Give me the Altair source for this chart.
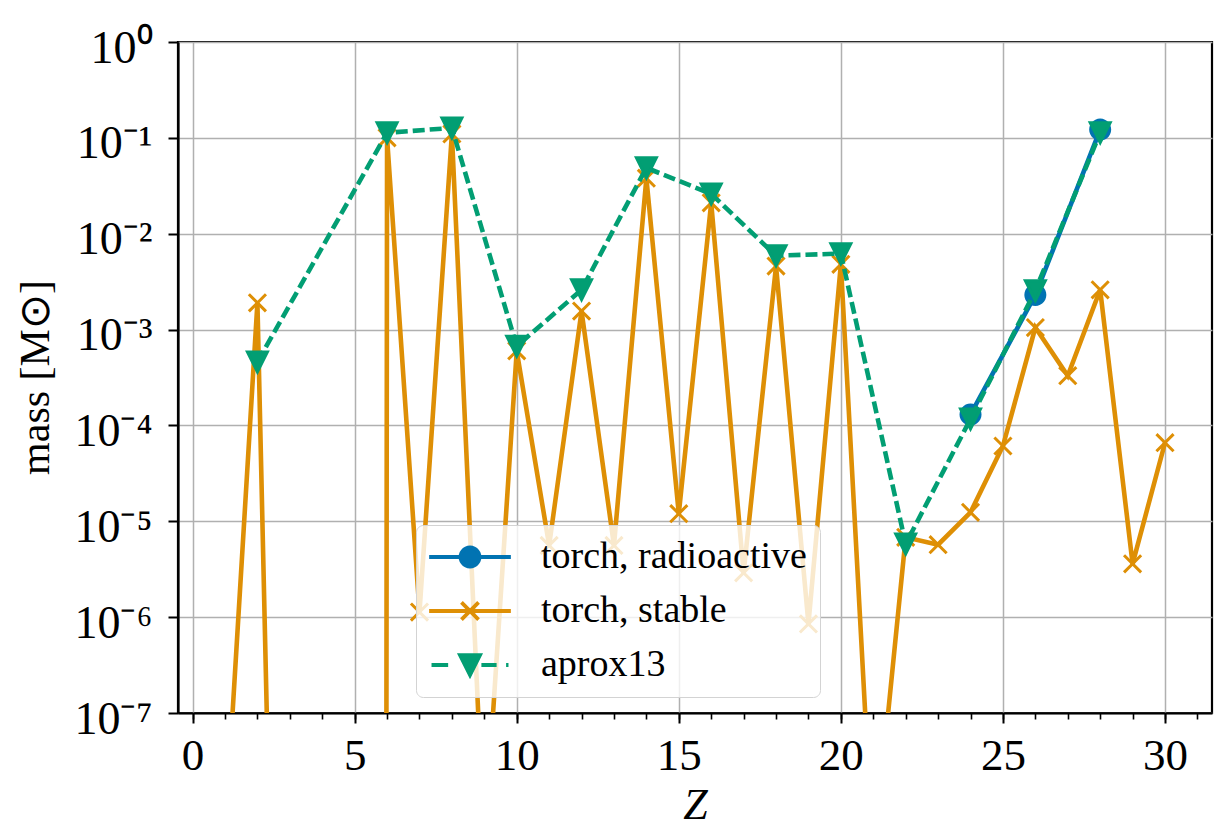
import math
import altair as alt
import pandas as pd

# ---------------- data ----------------
series_names = ["torch, radioactive", "torch, stable", "aprox13"]
series_colors = ["#0173b2", "#de8f05", "#029e73"]

z_radio = [24, 26, 28]
m_radio = [1.3e-4, 2.3e-3, 0.122]

z_stable = list(range(1, 31))
m_stable = [5e-9, 1.9e-3, 3e-18, 1e-300, 1e-300, 0.1, 1.13e-6, 0.11, 4e-9, 6.0e-4,
            5.6e-6, 1.56e-3, 5.6e-6, 0.038, 1.2e-5, 0.021, 2.9e-6, 4.6e-3, 8.5e-7, 4.8e-3,
            2.8e-9, 6.8e-6, 5.7e-6, 1.24e-5, 6.1e-5, 1.05e-3, 3.3e-4, 2.6e-3, 3.6e-6, 6.6e-5]

z_aprox = [2, 6, 8, 10, 12, 14, 16, 18, 20, 22, 24, 26, 28]
m_aprox = [4.6e-4, 0.113, 0.127, 6.7e-4, 2.6e-3, 0.0487, 0.026, 5.9e-3, 6.2e-3,
           5.8e-6, 1.17e-4, 2.55e-3, 0.113]

x_major_ticks = [0, 5, 10, 15, 20, 25, 30]
x_minor_ticks = list(range(0, 32))
y_ticks = [1, 1e-1, 1e-2, 1e-3, 1e-4, 1e-5, 1e-6, 1e-7]
y_tick_labels = ["10⁰", "10⁻¹", "10⁻²", "10⁻³", "10⁻⁴", "10⁻⁵", "10⁻⁶", "10⁻⁷"]

FONT = "Liberation Serif"
LINE_W = 4.6

# ---------------- marker shapes ----------------
def circle_path(r, n=28):
    pts = [(r * math.cos(2 * math.pi * k / n), r * math.sin(2 * math.pi * k / n)) for k in range(n)]
    return "M" + "L".join(f"{x:.3f},{y:.3f}" for x, y in pts) + "Z"

circle = circle_path(1.0)
cross = "M-0.9,-0.9L0.9,0.9M-0.9,0.9L0.9,-0.9"
tri_down = "M-1.05,-1.05L1.05,-1.05L0,1.05Z"

leg_circle = "M-4.3,0L4.3,0" + circle
leg_cross = "M-4.3,0L4.3,0" + cross
leg_tri = "M-4.05,0L-2.3,0M1.2,0L2.8,0M3.8,0L4.05,0" + tri_down

# ---------------- scales / encodings ----------------
xscale = alt.Scale(domain=[-0.45, 31.45], nice=False, zero=False)
yscale = alt.Scale(type="log", domain=[1e-7, 1], nice=False)

label_expr = "[" + ",".join(f"'{s}'" for s in y_tick_labels) + "][round(-log(datum.value)/LN10)]"

x_axis = alt.Axis(values=x_major_ticks, grid=True, gridColor="#b0b0b0", gridWidth=1.5,
                  tickSize=10, tickWidth=2, tickColor="black",
                  domainColor="black", domainWidth=2.2,
                  labelFont=FONT, labelFontSize=45, labelColor="black", labelPadding=10,
                  labelFlush=False, labelOverlap=False, format="d",
                  title="Z", titleFont=FONT, titleFontSize=44, titleFontStyle="italic",
                  titleFontWeight="normal", titleColor="black", titleY=105,
                  titleBaseline="alphabetic", orient="bottom")
y_axis = alt.Axis(values=y_ticks, labelExpr=label_expr, grid=True, gridColor="#b0b0b0",
                  gridWidth=1.5, tickSize=10, tickWidth=2, tickColor="black",
                  domainColor="black", domainWidth=2.2,
                  labelFont=FONT, labelFontSize=46, labelColor="black", labelPadding=16,
                  labelFlush=False, labelOverlap=False, labelOffset=6,
                  title="mass [M⊙]", titleFont=FONT, titleFontSize=42,
                  titleFontWeight="normal", titleColor="black",
                  titleX=-143, titleY=335, titleBaseline="middle", titleAngle=-90)

xenc = alt.X("Z:Q", scale=xscale, axis=x_axis)
yenc = alt.Y("mass:Q", scale=yscale, axis=y_axis)

specs = [
    (series_names[0], series_colors[0], z_radio, m_radio, None, circle),
    (series_names[1], series_colors[1], z_stable, m_stable, None, cross),
    (series_names[2], series_colors[2], z_aprox, m_aprox, [12, 5], tri_down),
]

layers = []
for name, color, zs, ms, dash, shape in specs:
    df = pd.DataFrame({"Z": zs, "mass": ms, "series": name})
    line_kw = dict(clip=True, color=color, stroke=color, strokeWidth=LINE_W)
    if dash is not None:
        line_kw["strokeDash"] = dash
    line = alt.Chart(df).mark_line(**line_kw).encode(
        x=xenc, y=yenc, order="Z:Q", strokeWidth=alt.value(LINE_W))
    pts = alt.Chart(df).mark_point(clip=True, shape=shape, filled=True, fill=color,
                                   stroke=color, strokeWidth=3, size=361,
                                   opacity=1).encode(x=xenc, y=yenc)
    layers += [line, pts]

legend = alt.Legend(title=None, orient="none", legendX=238, legendY=483, padding=13,
                    symbolOffset=22, labelOffset=52, rowPadding=16, symbolSize=361,
                    symbolStrokeWidth=3.8, symbolOpacity=1, labelFontSize=38, labelFont=FONT,
                    labelColor="black", labelLimit=0, fillColor="rgba(255,255,255,0.8)",
                    strokeColor="#d3d3d3", cornerRadius=7)

leg_df = pd.DataFrame({"series": series_names})
legend_layer = alt.Chart(leg_df).mark_point(clip=True, filled=True, opacity=1, size=361).encode(
    x=alt.value(0), y=alt.value(-5000),
    fill=alt.Fill("series:N", scale=alt.Scale(domain=series_names, range=series_colors), legend=legend),
    stroke=alt.Stroke("series:N", scale=alt.Scale(domain=series_names, range=series_colors), legend=legend),
    shape=alt.Shape("series:N", scale=alt.Scale(domain=series_names, range=[leg_circle, leg_cross, leg_tri]),
                    legend=legend),
)

minor = alt.Chart(pd.DataFrame({"Z": x_minor_ticks})).mark_point(opacity=0).encode(
    x=alt.X("Z:Q", scale=xscale,
            axis=alt.Axis(values=x_minor_ticks, labels=False, grid=False, domain=False,
                          tickSize=6, tickWidth=1.6, tickColor="black", title=None,
                          orient="bottom")),
)

main = alt.layer(*layers, legend_layer)

chart = alt.layer(main, minor).resolve_axis(x="independent").properties(
    width=1034, height=671,
    autosize=alt.AutoSizeParams(type="none"),
    padding={"left": 178, "top": 42, "right": 2, "bottom": 116},
).configure(font=FONT).configure_view(stroke="black", strokeWidth=2.2)

chart.save("out.html", embed_options={"renderer": "svg", "actions": False})
